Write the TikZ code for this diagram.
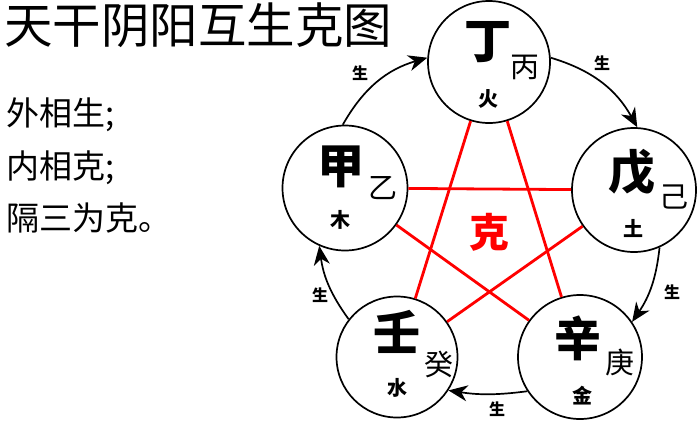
\documentclass[tikz,border=0pt]{standalone}
\usepackage{fontspec}
\setmainfont{Noto Sans CJK SC}
\usetikzlibrary{arrows.meta}
\tikzset{
  circ/.style={circle, draw=black, fill=white, line width=1.7pt, inner sep=0pt},
  big/.style={inner sep=0pt, font=\bfseries\fontsize{47}{47}\selectfont},
  small/.style={inner sep=0pt, font=\fontsize{29}{29}\selectfont},
  elem/.style={inner sep=0pt, font=\bfseries\fontsize{20}{20}\selectfont},
  ke/.style={draw=red, line width=2.8pt},
  sheng/.style={draw=black, line width=1.7pt, -{Stealth[length=19pt,width=16pt,inset=6pt]}},
  lab/.style={inner sep=0pt, font=\bfseries\fontsize{16}{16}\selectfont},
  side/.style={inner sep=0pt, anchor=west, font=\fontsize{33}{33}\selectfont}
}
\begin{document}
\begin{tikzpicture}[x=1pt,y=-1pt]
\useasboundingbox (0,0) rectangle (700,424);
% title and side text
\node[inner sep=0pt, anchor=west, font=\fontsize{48.5}{48.5}\selectfont] (title) at (4,25) {天干阴阳互生克图};
\node[side] (t1) at (6,115) {外相生;};
\node[side] (t2) at (6,168) {内相克;};
\node[side] (t3) at (6,218) {隔三为克。};
% circles
\node[circ, minimum size=122pt] (ding) at (489,62) {};
\node[circ, minimum size=124pt] (wu) at (634,190) {};
\node[circ, minimum size=124pt] (xin) at (580,357) {};
\node[circ, minimum size=121pt] (ren) at (397,357) {};
\node[circ, minimum size=125pt] (jia) at (345,188) {};
% red star
\draw[ke] (ding) -- (ren);
\draw[ke] (ding) -- (xin);
\draw[ke] (jia) -- (wu);
\draw[ke] (jia) -- (xin);
\draw[ke] (wu) -- (ren);
\node[inner sep=0pt, text=red, font=\bfseries\fontsize{40}{40}\selectfont] (ke) at (489,232) {克};
% texts inside circles
\node[big] (dingM) at ([shift={(-1,-20)}]ding.center) {丁};
\node[small] (dingS) at ([shift={(36,5)}]ding.center) {丙};
\node[elem] (dingE) at ([shift={(-1,37)}]ding.center) {火};
\node[big] (wuM) at ([shift={(-2,-18)}]wu.center) {戊};
\node[small] (wuS) at ([shift={(40,7)}]wu.center) {己};
\node[elem] (wuE) at ([shift={(-1,38)}]wu.center) {土};
\node[big] (xinM) at ([shift={(-2,-19)}]xin.center) {辛};
\node[small] (xinS) at ([shift={(40,5)}]xin.center) {庚};
\node[elem] (xinE) at ([shift={(2,39)}]xin.center) {金};
\node[big] (renM) at ([shift={(0,-25)}]ren.center) {壬};
\node[small] (renS) at ([shift={(42,7)}]ren.center) {癸};
\node[elem] (renE) at ([shift={(0,31)}]ren.center) {水};
\node[big] (jiaM) at ([shift={(-4,-21)}]jia.center) {甲};
\node[small] (jiaS) at ([shift={(38,0)}]jia.center) {乙};
\node[elem] (jiaE) at ([shift={(-5,32)}]jia.center) {木};
% sheng arrows
\draw[sheng] (jia.92) to[bend left=22] (ding.176);
\draw[sheng] (ding.4) to[bend left=22] (wu.87);
\draw[sheng] (wu.294) to[bend left=14] (xin.34);
\draw[sheng] (xin.213) to[bend left=8] (ren.327);
\draw[sheng] (ren.142) to[bend left=14] (jia.246);
\node[lab] (s1) at (360,73) {生};
\node[lab] (s2) at (602,63) {生};
\node[lab] (s3) at (672,292) {生};
\node[lab] (s4) at (497,409) {生};
\node[lab] (s5) at (320,295) {生};
\end{tikzpicture}
\end{document}
